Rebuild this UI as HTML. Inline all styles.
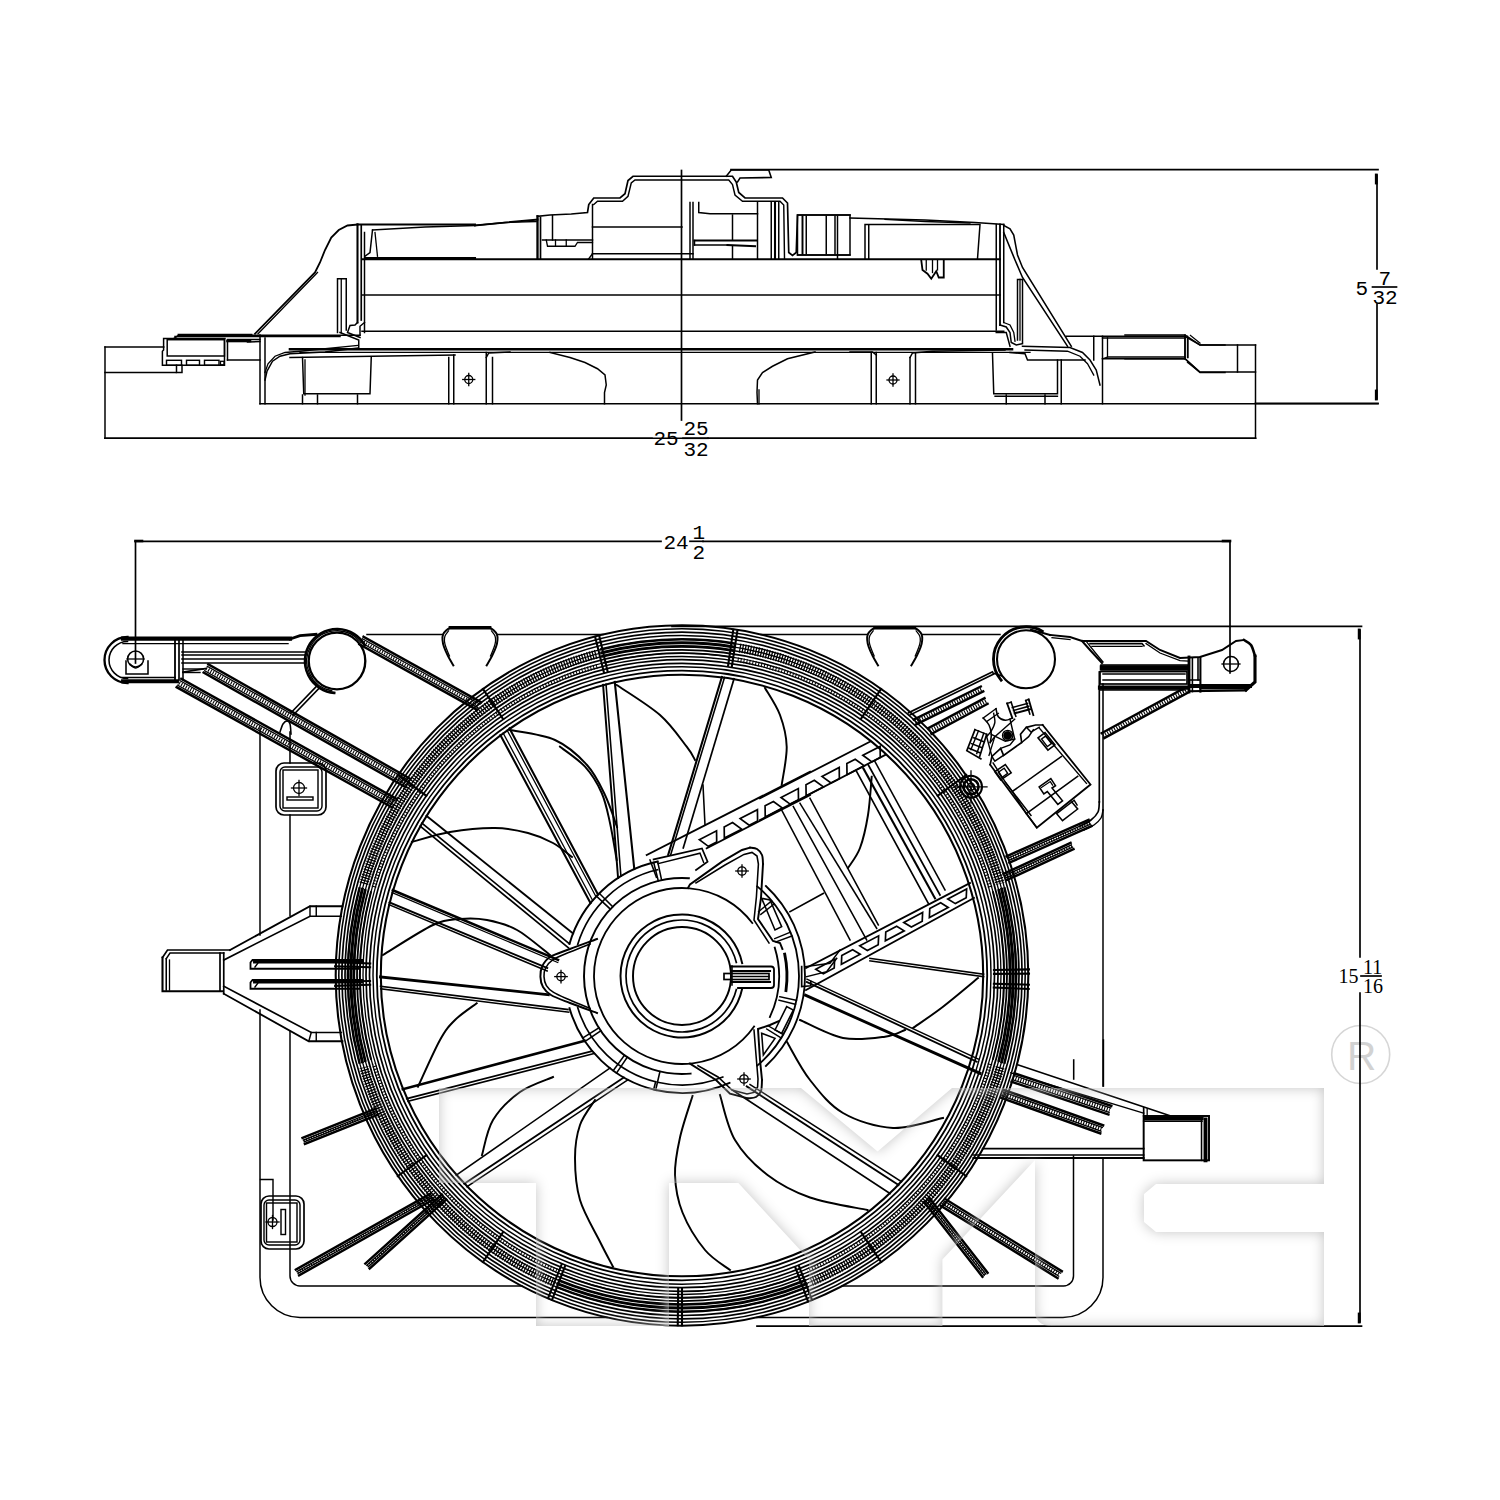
<!DOCTYPE html>
<html><head><meta charset="utf-8"><title>Radiator fan assembly drawing</title>
<style>
html,body{margin:0;padding:0;background:#fff}
svg{display:block}
.d *{fill:none;stroke:#000;stroke-linecap:square;stroke-linejoin:miter}
.d [stroke-dasharray]{stroke-linecap:butt}
text{font-family:"Liberation Mono","DejaVu Sans Mono",monospace;fill:#000;stroke:none}
</style></head><body>
<svg width="1500" height="1500" viewBox="0 0 1500 1500">
<rect width="1500" height="1500" fill="#fff"/>
<circle cx="1360.7" cy="1054.5" r="29" fill="none" stroke="#d6d6d6" stroke-width="1.6"/>
<text x="1361.5" y="1070" text-anchor="middle" style="font-family:'Liberation Sans','DejaVu Sans',sans-serif;font-size:40.5px;fill:#d2d2d2;stroke:none">R</text>

<g class="d">
<line x1="105" y1="347" x2="163.75" y2="347" stroke-width="1.49"/>
<line x1="105" y1="347" x2="105" y2="438.25" stroke-width="1.49"/>
<line x1="105" y1="438.25" x2="1255.5" y2="438.25" stroke-width="1.49"/>
<line x1="1255.5" y1="345" x2="1255.5" y2="438.25" stroke-width="1.49"/>
<line x1="105" y1="372.5" x2="176" y2="372.5" stroke-width="1.49"/>
<polyline points="225,338.4 163.6,338.4 163.6,350 162.4,351.2 162.4,365.3 224.5,365.3 224.5,338.4" stroke-width="1.49"/>
<rect x="167.2" y="339.7" width="57.3" height="16.3" stroke-width="1.49"/>
<rect x="166.5" y="360.3" width="15" height="5" stroke-width="1.43"/>
<rect x="186.5" y="360.3" width="13" height="5" stroke-width="1.43"/>
<rect x="204.5" y="360.3" width="14.5" height="5" stroke-width="1.43"/>
<rect x="220.5" y="361.3" width="3.5" height="3.5" stroke-width="1.3"/>
<polyline points="176.5,365.3 176.5,372.5 182,372.5 182,365.3" stroke-width="1.49"/>
<polyline points="174,338.4 179,335" stroke-width="1.49"/>
<line x1="179" y1="335.2" x2="251" y2="335.2" stroke-width="2.86"/>
<line x1="251" y1="335.2" x2="360" y2="335.2" stroke-width="1.56"/>
<line x1="175" y1="336.5" x2="340" y2="336.5" stroke-width="1.49"/>
<polyline points="227.5,360 227.5,339.5 260,339.5" stroke-width="1.49"/>
<line x1="227.5" y1="341" x2="250" y2="341" stroke-width="2.6"/>
<line x1="247.5" y1="342" x2="260" y2="341.5" stroke-width="1.49"/>
<line x1="227.5" y1="360" x2="260" y2="360" stroke-width="1.49"/>
<line x1="260" y1="335" x2="260" y2="403.75" stroke-width="1.49"/>
<line x1="265" y1="338" x2="265" y2="403.75" stroke-width="1.49"/>
<line x1="260" y1="403.75" x2="1378" y2="403.75" stroke-width="1.49"/>
<polyline points="265,380 267,371.25 272.5,361.25 280,356.25 290,353.75 325,352 357.5,348" stroke-width="1.49"/>
<polyline points="265,372.5 268,363.75 275,356.25 285,352.5 300,351.25 357.5,345.5" stroke-width="1.3"/>
<polyline points="357.5,224.5 347.5,225.5 338.75,230 331.25,237.5 325,250 320,262.5 315,272.5 255,333.75" stroke-width="1.82"/>
<polyline points="317.5,272.5 258,333.75" stroke-width="1.3"/>
<polyline points="337.5,332.5 337.5,278.75 346.25,278.75 346.25,330" stroke-width="1.49"/>
<line x1="341.25" y1="278.75" x2="341.25" y2="332.5" stroke-width="1.3"/>
<line x1="357.5" y1="224.5" x2="357.5" y2="322.5" stroke-width="2.08"/>
<line x1="361.25" y1="225.5" x2="361.25" y2="320" stroke-width="1.69"/>
<line x1="364.5" y1="232.5" x2="364.5" y2="332.5" stroke-width="1.49"/>
<polyline points="357.5,322.5 355,325 350,325.5 347.5,332.5 360,337.5" stroke-width="1.49"/>
<polyline points="364.5,322.5 360,326.25 360,335" stroke-width="1.49"/>
<polyline points="340,332.5 358.75,340 358.75,347.5" stroke-width="1.49"/>
<polyline points="357.5,224.5 475,224.5" stroke-width="1.95"/>
<polyline points="475,225.5 537.5,219.5" stroke-width="1.95"/>
<polyline points="372.5,230 425,227 475,225.5" stroke-width="1.3"/>
<polyline points="475,225.5 505,222.5 536.25,221.5" stroke-width="1.3"/>
<polyline points="372.5,230 370,252.5 365,256.25" stroke-width="1.49"/>
<polyline points="375,232.5 377.5,256.25" stroke-width="1.3"/>
<line x1="365" y1="258" x2="475" y2="258" stroke-width="2.08"/>
<line x1="362" y1="259.25" x2="1000" y2="259.25" stroke-width="1.82"/>
<line x1="362" y1="295" x2="1000" y2="295" stroke-width="1.49"/>
<line x1="362" y1="331.25" x2="1003.75" y2="331.25" stroke-width="1.49"/>
<line x1="290" y1="349.3" x2="1012" y2="349.3" stroke-width="2.6"/>
<line x1="300" y1="352.3" x2="1030" y2="352.3" stroke-width="1.3"/>
<polyline points="302.5,357.5 303.75,393.75 370,393.75 371.25,357.5" stroke-width="1.49"/>
<polyline points="305,360 305,395" stroke-width="1.3"/>
<polyline points="302.5,395 302.5,403.75" stroke-width="1.49"/>
<polyline points="317.5,395 317.5,403.75" stroke-width="1.49"/>
<polyline points="357.5,395 357.5,403.75" stroke-width="1.49"/>
<line x1="290" y1="357.5" x2="455" y2="355" stroke-width="1.49"/>
<line x1="448.75" y1="357.5" x2="448.75" y2="403.75" stroke-width="1.49"/>
<line x1="453.75" y1="355" x2="453.75" y2="403.75" stroke-width="1.49"/>
<circle cx="468.75" cy="379.5" r="4" stroke-width="1.3"/>
<line x1="462.75" y1="379.5" x2="474.75" y2="379.5" stroke-width="1.3"/>
<line x1="468.75" y1="373.5" x2="468.75" y2="385.5" stroke-width="1.3"/>
<line x1="486.25" y1="352.5" x2="486.25" y2="403.75" stroke-width="1.49"/>
<line x1="492.5" y1="357.5" x2="492.5" y2="403.75" stroke-width="1.49"/>
<polyline points="486.25,357.5 488.75,353 510,352" stroke-width="1.49"/>
<polyline points="550,352.5 570,357.5 585,362.5 597.5,368.75 605,375 606.25,385 604.5,392.5 604.5,403.75" stroke-width="1.49"/>
<polyline points="815,352 787.5,358.75 772.5,366.25 762.5,372.5 757.5,380 757,392.5 757.5,403.75" stroke-width="1.49"/>
<line x1="759" y1="390" x2="759" y2="403.75" stroke-width="1.3"/>
<line x1="871.25" y1="352.5" x2="871.25" y2="403.75" stroke-width="1.49"/>
<line x1="876.25" y1="352.5" x2="876.25" y2="403.75" stroke-width="1.49"/>
<polyline points="850,352 872.5,352 876.25,355" stroke-width="1.49"/>
<line x1="910" y1="357.5" x2="910" y2="403.75" stroke-width="1.49"/>
<line x1="915.5" y1="353.75" x2="915.5" y2="403.75" stroke-width="1.49"/>
<polyline points="910,357.5 912.5,353 932.5,351.25 1005,350" stroke-width="1.49"/>
<circle cx="893" cy="380" r="4" stroke-width="1.3"/>
<line x1="887" y1="380" x2="899" y2="380" stroke-width="1.3"/>
<line x1="893" y1="374" x2="893" y2="386" stroke-width="1.3"/>
<polyline points="992.5,353.75 993.75,393.75 1057.5,393.75 1057.5,360" stroke-width="1.49"/>
<line x1="1006.25" y1="395" x2="1006.25" y2="403.75" stroke-width="1.49"/>
<line x1="1045" y1="395" x2="1045" y2="403.75" stroke-width="1.49"/>
<line x1="995" y1="396.25" x2="1057.5" y2="396.25" stroke-width="1.3"/>
<line x1="1061.25" y1="360" x2="1061.25" y2="403.75" stroke-width="1.49"/>
<polyline points="1010,352.5 1025,353.75 1027.5,360 1085,360" stroke-width="1.49"/>
<polyline points="1022.5,346.25 1070,347.5 1082.5,352.5 1090,360 1096.25,370 1100,385" stroke-width="1.49"/>
<polyline points="1025,350 1067.5,351.25 1080,356.25 1087.5,363.75 1093.75,375" stroke-width="1.3"/>
<line x1="1102.5" y1="336.25" x2="1102.5" y2="403.75" stroke-width="1.49"/>
<line x1="1093.75" y1="336.25" x2="1093.75" y2="360" stroke-width="1.49"/>
<polyline points="1003.75,225.5 1010,228.75 1013.75,235 1017.5,255 1022.5,267.5 1071.25,346.25" stroke-width="1.56"/>
<polyline points="1003.75,232.5 1015,260 1022.5,277.5 1067.5,346.25" stroke-width="1.56"/>
<polyline points="1017.5,340 1017.5,279.5 1022.5,279.5 1022.5,342.5" stroke-width="1.49"/>
<line x1="1020" y1="279.5" x2="1020" y2="340" stroke-width="1.3"/>
<line x1="996.25" y1="224.5" x2="996.25" y2="330" stroke-width="1.49"/>
<line x1="1000" y1="224.5" x2="1000" y2="325" stroke-width="1.82"/>
<line x1="1003.75" y1="224.5" x2="1003.75" y2="322.5" stroke-width="1.49"/>
<polyline points="1000,325 1006.25,327 1010,332.5 1011.25,342.5 1016.25,345 1022.5,343.75" stroke-width="1.49"/>
<polyline points="1003.75,322.5 1010,325 1013.75,332.5 1015,341.25" stroke-width="1.3"/>
<polyline points="996.25,332.5 1006.25,332.5 1010,346.25" stroke-width="1.49"/>
<polyline points="1066.25,336.25 1185,336.25 1200,345 1225,345" stroke-width="1.49"/>
<line x1="1102.5" y1="338" x2="1185" y2="338" stroke-width="1.3"/>
<polyline points="1102.5,358.75 1185,358.75 1200,372.5 1225,372.5" stroke-width="1.49"/>
<line x1="1107.5" y1="357" x2="1185" y2="357" stroke-width="1.3"/>
<polyline points="1102.5,358.75 1107.5,357 1107.5,338" stroke-width="1.3"/>
<line x1="1185" y1="336.25" x2="1185" y2="358.75" stroke-width="1.49"/>
<line x1="1188" y1="338" x2="1188" y2="357.5" stroke-width="1.3"/>
<polyline points="1125,335 1185,335 1200,345 1255.5,345" stroke-width="1.49"/>
<polyline points="1125,358.75 1185,358.75 1200,372 1255.5,372" stroke-width="1.49"/>
<polyline points="1190.5,335.5 1200,343" stroke-width="1.3"/>
<polyline points="1187.5,362.5 1198.75,371.25" stroke-width="1.3"/>
<line x1="1185" y1="335" x2="1185" y2="358.75" stroke-width="1.49"/>
<line x1="1187.5" y1="336.25" x2="1187.5" y2="357.5" stroke-width="1.3"/>
<line x1="1237.5" y1="345" x2="1237.5" y2="372" stroke-width="1.49"/>
<polyline points="537.5,216.25 550,215 571.25,214 587.5,212.5 588.75,204.5 593.75,198 620,198 625,193.75 628,180.5 633,176.25 732.5,176.25 736.25,182 738.75,192.5 745,198 782.5,198 787.5,203 788.75,252.5 792.5,255.5 796.25,252.5 797.5,215 850,215" stroke-width="1.69"/>
<polyline points="593.75,204.5 597.5,201.25 622.5,201.25 628,196.25 631.25,183 635,180 728.75,180 732.5,184.5 735,195 742.5,201.25 780,201.25 783.75,205 784.5,258.75" stroke-width="1.43"/>
<polyline points="726.25,176.25 731.25,170 768.75,170 771.25,177.5 740,178 737.5,182" stroke-width="1.56"/>
<line x1="592.5" y1="204.5" x2="592.5" y2="258.75" stroke-width="1.49"/>
<line x1="690" y1="202.5" x2="690" y2="258.75" stroke-width="1.49"/>
<line x1="693" y1="202.5" x2="693" y2="258.75" stroke-width="1.49"/>
<line x1="592.5" y1="227" x2="682" y2="227" stroke-width="1.49"/>
<line x1="592.5" y1="253.75" x2="693" y2="253.75" stroke-width="1.49"/>
<polyline points="592.5,253.75 588.75,258.75" stroke-width="1.49"/>
<line x1="537.5" y1="216.25" x2="537.5" y2="258.75" stroke-width="2.34"/>
<line x1="540.5" y1="217.5" x2="540.5" y2="258.75" stroke-width="1.69"/>
<line x1="552.5" y1="215.5" x2="552.5" y2="240" stroke-width="1.49"/>
<line x1="542.5" y1="240" x2="592.5" y2="240" stroke-width="1.49"/>
<polyline points="546.25,240 547.5,246.25 575,246.25 577.5,242.5 592.5,242.5" stroke-width="1.3"/>
<line x1="555.5" y1="240" x2="555.5" y2="246.25" stroke-width="1.3"/>
<line x1="566.25" y1="240" x2="566.25" y2="246.25" stroke-width="1.3"/>
<polyline points="698.75,202.5 698.75,212.5 710,213.75 757.5,213.75" stroke-width="1.49"/>
<line x1="732.5" y1="215" x2="732.5" y2="240" stroke-width="1.49"/>
<line x1="757.5" y1="202.5" x2="757.5" y2="258.75" stroke-width="1.49"/>
<line x1="771.25" y1="202.5" x2="771.25" y2="258.75" stroke-width="1.49"/>
<line x1="775" y1="202.5" x2="775" y2="258.75" stroke-width="2.08"/>
<line x1="778.75" y1="202.5" x2="778.75" y2="258.75" stroke-width="1.49"/>
<line x1="694.5" y1="240.5" x2="756.25" y2="240.5" stroke-width="1.95"/>
<line x1="694.5" y1="245" x2="727.5" y2="245" stroke-width="1.49"/>
<line x1="727.5" y1="245" x2="755" y2="246.25" stroke-width="2.08"/>
<line x1="732.5" y1="246.25" x2="732.5" y2="258.75" stroke-width="1.49"/>
<line x1="694.5" y1="240.5" x2="694.5" y2="245" stroke-width="1.49"/>
<rect x="797.5" y="215" width="52.5" height="40" stroke-width="1.49"/>
<line x1="802.5" y1="216.25" x2="802.5" y2="253.75" stroke-width="1.95"/>
<line x1="806.25" y1="216.25" x2="806.25" y2="253.75" stroke-width="1.49"/>
<line x1="826.25" y1="216.25" x2="826.25" y2="253.75" stroke-width="1.49"/>
<line x1="835" y1="216.25" x2="835" y2="253.75" stroke-width="1.49"/>
<line x1="837.5" y1="216.25" x2="837.5" y2="258.75" stroke-width="1.49"/>
<polyline points="850,218 925,220 975,222.5 1003.75,224.5" stroke-width="1.49"/>
<polyline points="885,219.5 925,221.5 970,223" stroke-width="1.3"/>
<polyline points="865,258.75 865,224.5 980,224.5 977.5,258.75" stroke-width="1.49"/>
<line x1="868.75" y1="225.5" x2="868.75" y2="258.75" stroke-width="1.49"/>
<line x1="797.5" y1="255" x2="850" y2="255" stroke-width="1.49"/>
<polyline points="921.25,260 922.5,270 927.5,273.75 931.25,278.75 936.25,271.25 938.75,277.5 943.75,277.5 943.75,260" stroke-width="1.82"/>
<line x1="926.25" y1="260" x2="926.25" y2="270" stroke-width="1.3"/>
<line x1="932.5" y1="260" x2="932.5" y2="272.5" stroke-width="1.3"/>
<line x1="937.5" y1="260" x2="937.5" y2="270" stroke-width="1.3"/>
<line x1="260" y1="728" x2="260" y2="935" stroke-width="1.49"/>
<path d="M260 1010 V1277.5 A40 40 0 0 0 300 1317.5 H607" stroke-width="1.49" />
<path d="M757 1317.5 H1063 A40 40 0 0 0 1103 1277.5 V1158" stroke-width="1.49" />
<line x1="1103" y1="1086" x2="1103" y2="810" stroke-width="1.49"/>
<line x1="290" y1="815" x2="290" y2="915.5" stroke-width="1.49"/>
<path d="M290 1031.5 V1276 A10 10 0 0 0 300 1286 H522" stroke-width="1.49" />
<path d="M842 1286 H1063.5 A10 10 0 0 0 1073.5 1276 V1156" stroke-width="1.49" />
<ellipse cx="682" cy="975.5" rx="346.3" ry="350.2" stroke-width="2.08"/>
<ellipse cx="682" cy="975.5" rx="343.2" ry="346.8" stroke-width="1.56"/>
<ellipse cx="682" cy="975.5" rx="340.1" ry="343.4" stroke-width="1.69"/>
<ellipse cx="682" cy="975.5" rx="337" ry="340" stroke-width="1.69"/>
<ellipse cx="682" cy="975.5" rx="334" ry="336.2" stroke-width="1.3"/>
<ellipse cx="682" cy="975.5" rx="331" ry="332.6" stroke-width="1.3"/>
<ellipse cx="682" cy="975.5" rx="328" ry="329" stroke-width="1.3"/>
<ellipse cx="682" cy="975.5" rx="325" ry="325.6" stroke-width="1.82"/>
<ellipse cx="682" cy="975.5" rx="322" ry="322.3" stroke-width="1.3"/>
<ellipse cx="682" cy="975.5" rx="319" ry="319" stroke-width="1.3"/>
<ellipse cx="682" cy="975.5" rx="316" ry="315.8" stroke-width="1.69"/>
<ellipse cx="682" cy="975.5" rx="312.5" ry="312.2" stroke-width="1.69"/>
<ellipse cx="682" cy="975.5" rx="309" ry="308.7" stroke-width="1.43"/>
<ellipse cx="682" cy="975.5" rx="305.2" ry="304.8" stroke-width="1.82"/>
<ellipse cx="682" cy="975.5" rx="301.2" ry="300.8" stroke-width="2.08"/>
<path d="M363.82 883.82 A331 332.6 0 0 1 596.33 654.23" stroke-width="9.1" stroke-dasharray="1.3 1.4"/>
<path d="M373.92 887.13 A320.5 320.6 0 0 1 599.05 665.82" stroke-width="4.68" stroke-dasharray="1 2"/>
<path d="M739.48 647.95 A331 332.6 0 0 1 1000.18 883.82" stroke-width="9.1" stroke-dasharray="1.3 1.4"/>
<path d="M737.65 659.77 A320.5 320.6 0 0 1 990.08 887.13" stroke-width="4.68" stroke-dasharray="1 2"/>
<path d="M1000.18 1067.18 A331 332.6 0 0 1 811.33 1281.66" stroke-width="9.1" stroke-dasharray="1.3 1.4"/>
<path d="M990.08 1063.87 A320.5 320.6 0 0 1 807.23 1270.61" stroke-width="4.68" stroke-dasharray="1 2"/>
<path d="M552.67 1281.66 A331 332.6 0 0 1 363.82 1067.18" stroke-width="9.1" stroke-dasharray="1.3 1.4"/>
<path d="M556.77 1270.61 A320.5 320.6 0 0 1 373.92 1063.87" stroke-width="4.68" stroke-dasharray="1 2"/>
<path d="M601.2 649.29 A334 336.2 0 0 1 734.25 643.44" stroke-width="2.47" />
<path d="M601.92 652.78 A331 332.6 0 0 1 733.78 646.99" stroke-width="2.99" />
<path d="M602.65 656.27 A328 329 0 0 1 733.31 650.55" stroke-width="2.73" />
<path d="M604.1 662.77 A322 322.3 0 0 1 732.37 657.17" stroke-width="1.95" />
<path d="M807.12 1287.22 A334 336.2 0 0 1 556.88 1287.22" stroke-width="2.47" />
<path d="M805.99 1283.88 A331 332.6 0 0 1 558.01 1283.88" stroke-width="2.99" />
<path d="M804.87 1280.54 A328 329 0 0 1 559.13 1280.54" stroke-width="2.73" />
<path d="M802.62 1274.33 A322 322.3 0 0 1 561.38 1274.33" stroke-width="1.95" />
<path d="M359.38 1062.51 A334 336.2 0 0 1 359.38 888.49" stroke-width="2.47" />
<path d="M362.28 1061.58 A331 332.6 0 0 1 362.28 889.42" stroke-width="2.99" />
<path d="M365.18 1060.65 A328 329 0 0 1 365.18 890.35" stroke-width="2.73" />
<path d="M370.97 1058.92 A322 322.3 0 0 1 370.97 892.08" stroke-width="1.95" />
<path d="M1004.62 888.49 A334 336.2 0 0 1 1004.62 1062.51" stroke-width="2.47" />
<path d="M1001.72 889.42 A331 332.6 0 0 1 1001.72 1061.58" stroke-width="2.99" />
<path d="M998.82 890.35 A328 329 0 0 1 998.82 1060.65" stroke-width="2.73" />
<path d="M993.03 892.08 A322 322.3 0 0 1 993.03 1058.92" stroke-width="1.95" />
<line x1="603.88" y1="672.23" x2="595.12" y2="636.87" stroke-width="2.08"/>
<line x1="607.58" y1="671.29" x2="599.23" y2="635.82" stroke-width="2.08"/>
<line x1="728.12" y1="665.69" x2="733.29" y2="629.57" stroke-width="2.08"/>
<line x1="731.88" y1="666.28" x2="737.48" y2="630.22" stroke-width="2.08"/>
<line x1="798.88" y1="1265.94" x2="811.99" y2="1299.81" stroke-width="2.08"/>
<line x1="795.33" y1="1267.35" x2="808.05" y2="1301.38" stroke-width="2.08"/>
<line x1="682" y1="1288.75" x2="682" y2="1325.28" stroke-width="2.08"/>
<line x1="678.19" y1="1288.72" x2="677.76" y2="1325.25" stroke-width="2.08"/>
<line x1="565.12" y1="1265.94" x2="552.01" y2="1299.81" stroke-width="2.08"/>
<line x1="561.6" y1="1264.48" x2="548.09" y2="1298.18" stroke-width="2.08"/>
<line x1="370.14" y1="984.79" x2="335.15" y2="985.88" stroke-width="2.08"/>
<line x1="370.05" y1="980.97" x2="335.05" y2="981.6" stroke-width="2.08"/>
<line x1="370.11" y1="967.3" x2="335.12" y2="966.34" stroke-width="2.08"/>
<line x1="370.23" y1="963.48" x2="335.26" y2="962.07" stroke-width="2.08"/>
<line x1="993.95" y1="970.03" x2="1028.95" y2="969.4" stroke-width="2.08"/>
<line x1="994" y1="973.86" x2="1029" y2="973.67" stroke-width="2.08"/>
<line x1="993.89" y1="983.7" x2="1028.88" y2="984.66" stroke-width="2.08"/>
<line x1="993.77" y1="987.52" x2="1028.74" y2="988.93" stroke-width="2.08"/>
<line x1="426.42" y1="795.83" x2="397.75" y2="774.88" stroke-width="2.08"/>
<line x1="503.04" y1="718.9" x2="482.97" y2="688.98" stroke-width="2.08"/>
<line x1="860.96" y1="718.9" x2="881.03" y2="688.98" stroke-width="2.08"/>
<line x1="937.58" y1="795.83" x2="966.25" y2="774.88" stroke-width="2.08"/>
<line x1="937.58" y1="1155.17" x2="966.25" y2="1176.12" stroke-width="2.08"/>
<line x1="860.96" y1="1232.1" x2="881.03" y2="1262.02" stroke-width="2.08"/>
<line x1="503.04" y1="1232.1" x2="482.97" y2="1262.02" stroke-width="2.08"/>
<line x1="426.42" y1="1155.17" x2="397.75" y2="1176.12" stroke-width="2.08"/>
<line x1="500.43" y1="735.12" x2="590.5" y2="903.09" stroke-width="2.08"/>
<line x1="503.14" y1="733.11" x2="592.65" y2="900.46" stroke-width="1.3"/>
<line x1="509.54" y1="728.52" x2="598.01" y2="894.55" stroke-width="2.08"/>
<line x1="507.15" y1="730.21" x2="595.97" y2="896.7" stroke-width="1.3"/>
<line x1="603.08" y1="684.9" x2="618.06" y2="878.01" stroke-width="1.95"/>
<line x1="606.02" y1="684.12" x2="620.92" y2="876.21" stroke-width="1.56"/>
<line x1="614.76" y1="681.98" x2="634.29" y2="869.17" stroke-width="2.08"/>
<line x1="721.87" y1="677.04" x2="668.21" y2="854.78" stroke-width="2.08"/>
<line x1="724.5" y1="677.41" x2="670.77" y2="854.52" stroke-width="1.56"/>
<line x1="733.99" y1="678.91" x2="683.26" y2="848.01" stroke-width="1.69"/>
<line x1="426.4" y1="815.8" x2="573.02" y2="933.43" stroke-width="1.82"/>
<line x1="421.9" y1="823.22" x2="569.49" y2="943.9" stroke-width="1.69"/>
<line x1="420.18" y1="826.18" x2="568.46" y2="947.77" stroke-width="1.69"/>
<line x1="392.84" y1="890.23" x2="558.05" y2="959.8" stroke-width="2.47"/>
<line x1="392.15" y1="892.59" x2="557.73" y2="962.52" stroke-width="1.3"/>
<line x1="389.51" y1="902.44" x2="547.24" y2="968.01" stroke-width="1.95"/>
<line x1="388.96" y1="904.68" x2="547.09" y2="971.01" stroke-width="1.56"/>
<line x1="380.5" y1="976.94" x2="548.3" y2="994.69" stroke-width="2.86"/>
<line x1="380.69" y1="986.33" x2="567.82" y2="1009.52" stroke-width="1.82"/>
<line x1="380.8" y1="988.84" x2="568.65" y2="1012.22" stroke-width="1.56"/>
<line x1="402.84" y1="1089.24" x2="584.57" y2="1040.78" stroke-width="2.6"/>
<line x1="406.86" y1="1098.62" x2="592.24" y2="1051.05" stroke-width="1.82"/>
<line x1="408.03" y1="1101.2" x2="594.27" y2="1053.41" stroke-width="1.69"/>
<line x1="456.28" y1="1175.11" x2="609.94" y2="1068.17" stroke-width="1.56"/>
<line x1="464.27" y1="1183.78" x2="623.78" y2="1077.48" stroke-width="1.82"/>
<line x1="467.04" y1="1186.63" x2="627.9" y2="1079.74" stroke-width="1.56"/>
<line x1="898.52" y1="1185.04" x2="746.77" y2="1086.4" stroke-width="1.95"/>
<line x1="901.63" y1="1181.78" x2="749.97" y2="1084.46" stroke-width="1.43"/>
<line x1="890.02" y1="1193.46" x2="732.62" y2="1090.29" stroke-width="1.69"/>
<line x1="976.67" y1="1061.67" x2="806.85" y2="982.07" stroke-width="1.82"/>
<line x1="978.33" y1="1059.17" x2="806.96" y2="979.25" stroke-width="1.43"/>
<line x1="980" y1="1073.33" x2="805.51" y2="995.23" stroke-width="2.86"/>
<line x1="983.5" y1="974.14" x2="870" y2="958.33" stroke-width="1.69"/>
<line x1="983.5" y1="976.64" x2="870" y2="960.83" stroke-width="1.69"/>
<line x1="646.67" y1="855" x2="810" y2="771.67" stroke-width="1.82"/>
<line x1="760" y1="798.33" x2="870" y2="741.67" stroke-width="1.82"/>
<line x1="706.67" y1="848.33" x2="810" y2="795" stroke-width="1.82"/>
<line x1="760" y1="820" x2="885" y2="755" stroke-width="1.82"/>
<line x1="806" y1="968" x2="970" y2="883" stroke-width="1.82"/>
<line x1="806" y1="990" x2="974" y2="898" stroke-width="1.82"/>
<polygon points="699.31,839.73 716.55,830.83 716.7,842.01 708.34,846.32" stroke-width="1.69"/>
<polygon points="724.19,826.88 732.55,822.57 741.58,829.16 724.34,838.06" stroke-width="1.69"/>
<polygon points="740.19,818.62 757.44,809.72 757.58,820.9 749.22,825.21" stroke-width="1.69"/>
<polygon points="765.08,805.77 773.44,801.45 782.47,808.05 765.23,816.95" stroke-width="1.69"/>
<polygon points="781.08,797.51 798.33,788.61 798.47,799.78 790.11,804.1" stroke-width="1.69"/>
<polygon points="805.97,784.66 814.33,780.34 823.36,786.94 806.12,795.84" stroke-width="1.69"/>
<polygon points="821.97,776.4 839.22,767.49 839.36,778.67 831,782.99" stroke-width="1.69"/>
<polygon points="846.86,763.55 855.22,759.23 864.25,765.82 847,774.73" stroke-width="1.69"/>
<polygon points="862.86,755.29 880.11,746.38 880.25,757.56 871.89,761.88" stroke-width="1.69"/>
<polygon points="815.8,969.3 834.63,959.28 834.23,968.1 823.35,973.89" stroke-width="1.69"/>
<polygon points="841.77,955.47 852.65,949.68 860.2,954.27 841.37,964.29" stroke-width="1.69"/>
<polygon points="859.8,945.87 878.63,935.85 878.23,944.67 867.35,950.46" stroke-width="1.69"/>
<polygon points="885.77,932.04 896.65,926.25 904.2,930.84 885.37,940.87" stroke-width="1.69"/>
<polygon points="903.8,922.44 922.63,912.42 922.23,921.24 911.35,927.04" stroke-width="1.69"/>
<polygon points="929.77,908.61 940.65,902.82 948.2,907.41 929.37,917.44" stroke-width="1.69"/>
<polygon points="947.8,899.01 966.63,888.99 966.23,897.82 955.35,903.61" stroke-width="1.69"/>
<line x1="781.67" y1="810" x2="850" y2="940" stroke-width="1.56"/>
<line x1="793.33" y1="806.67" x2="866.67" y2="940" stroke-width="1.56"/>
<line x1="800" y1="803.33" x2="876.67" y2="928.33" stroke-width="1.56"/>
<line x1="810" y1="798.33" x2="878.33" y2="925" stroke-width="1.56"/>
<line x1="856.67" y1="771.67" x2="928.33" y2="903.33" stroke-width="1.69"/>
<line x1="863.33" y1="768.33" x2="935" y2="898.33" stroke-width="2.08"/>
<line x1="868.33" y1="765" x2="940" y2="895" stroke-width="1.69"/>
<line x1="875" y1="761.67" x2="945" y2="890" stroke-width="1.56"/>
<line x1="790" y1="911.67" x2="823.33" y2="893.33" stroke-width="1.69"/>
<circle cx="682" cy="976" r="49" stroke-width="1.95"/>
<path d="M736.34 989.55 A56 56 0 1 1 736.34 962.45" stroke-width="1.69" />
<path d="M742.16 988.79 A61.5 61.5 0 1 1 742.16 963.21" stroke-width="1.95" />
<path d="M690.54 1073.63 A98 98 0 1 1 688.84 878.24" stroke-width="1.95" />
<path d="M754.09 1026.47 A88 88 0 1 1 752.28 923.04" stroke-width="1.82" />
<path d="M655.68 1090 A117 117 0 0 1 569.53 1008.25" stroke-width="1.95" />
<path d="M655.63 1081.76 A109 109 0 0 1 577.76 1007.87" stroke-width="1.69" />
<path d="M569.53 943.75 A117 117 0 0 1 657.67 861.56" stroke-width="1.95" />
<path d="M577.76 944.13 A109 109 0 0 1 657.48 869.79" stroke-width="1.69" />
<path d="M729.59 1082.88 A117 117 0 0 1 655.68 1090" stroke-width="1.82" />
<path d="M722.83 1077.06 A109 109 0 0 1 657.48 1082.21" stroke-width="1.56" />
<line x1="659.95" y1="1071.49" x2="655.68" y2="1090" stroke-width="1.56"/>
<line x1="627.2" y1="1057.25" x2="616.57" y2="1073" stroke-width="1.56"/>
<line x1="624.4" y1="1055.28" x2="613.23" y2="1070.65" stroke-width="1.56"/>
<line x1="600.75" y1="1030.8" x2="585" y2="1041.43" stroke-width="1.56"/>
<line x1="598.89" y1="1027.93" x2="582.78" y2="1038" stroke-width="1.56"/>
<line x1="610.33" y1="909.16" x2="596.43" y2="896.21" stroke-width="1.56"/>
<line x1="612.7" y1="906.7" x2="599.27" y2="893.27" stroke-width="1.56"/>
<line x1="658.29" y1="880.91" x2="653.7" y2="862.48" stroke-width="1.56"/>
<line x1="661.62" y1="880.14" x2="657.67" y2="861.56" stroke-width="1.56"/>
<line x1="655.63" y1="1081.76" x2="653.7" y2="1089.52" stroke-width="1.56"/>
<path d="M774.76 947.64 A97 97 0 0 1 769.91 1016.99" stroke-width="1.82" />
<path d="M784.71 954.17 A105 105 0 0 1 785.98 990.61" stroke-width="2.86" />
<path d="M757.21 886.37 A117 117 0 0 1 757.21 1065.63" stroke-width="1.82" />
<path d="M765.89 886.04 A123 123 0 0 1 765.89 1065.96" stroke-width="1.82" />
<line x1="758.6" y1="911.72" x2="771.63" y2="900.79" stroke-width="1.43"/>
<line x1="760.8" y1="914.43" x2="774.2" y2="903.97" stroke-width="1.43"/>
<line x1="774.72" y1="938.54" x2="790.48" y2="932.17" stroke-width="1.43"/>
<line x1="775.97" y1="941.8" x2="791.94" y2="935.98" stroke-width="1.43"/>
<line x1="779.81" y1="996.79" x2="796.44" y2="1000.33" stroke-width="1.43"/>
<line x1="779.03" y1="1000.19" x2="795.52" y2="1004.3" stroke-width="1.43"/>
<line x1="768.6" y1="1026" x2="783.32" y2="1034.5" stroke-width="1.43"/>
<line x1="766.8" y1="1028.99" x2="781.22" y2="1038" stroke-width="1.43"/>
<path d="M597 939 C592.5 940.67 577.83 946 570 949 C562.17 952 554.6 954.17 550 957 C545.4 959.83 544 962.73 542.4 966 C540.8 969.27 540.3 973.1 540.4 976.6 C540.5 980.1 541.23 983.93 543 987 C544.77 990.07 546.5 992.33 551 995 C555.5 997.67 562.33 1000 570 1003 C577.67 1006 592.5 1011.33 597 1013" stroke-width="1.95" />
<path d="M590 944 C586.67 945.33 576.17 949.4 570 952 C563.83 954.6 557.07 956.93 553 959.6 C548.93 962.27 547.1 965.17 545.6 968 C544.1 970.83 543.87 973.67 544 976.6 C544.13 979.53 544.8 982.97 546.4 985.6 C548 988.23 549.67 990 553.6 992.4 C557.53 994.8 563.93 997.33 570 1000 C576.07 1002.67 586.67 1007 590 1008.4" stroke-width="1.56" />
<circle cx="561" cy="976.6" r="4.2" stroke-width="1.3"/>
<line x1="554.8" y1="976.6" x2="567.2" y2="976.6" stroke-width="1.3"/>
<line x1="561" y1="970.4" x2="561" y2="982.8" stroke-width="1.3"/>
<polyline points="688,888 690,884.4 722,861.6 742,850 750,847.6" stroke-width="1.95"/>
<path d="M750 847.6 C751.17 847.83 755 847.77 757 849 C759 850.23 761 852.5 762 855 C763 857.5 762.83 862.5 763 864" stroke-width="1.95" />
<polyline points="763,864 761,898 758,919 773,941 780,943 782.4,949" stroke-width="1.95"/>
<polyline points="696,883 725,865 744,854.4 752,852.4 757,856 758.4,864 756.4,897 754,920 769,943" stroke-width="1.56"/>
<circle cx="742" cy="871" r="4.2" stroke-width="1.3"/>
<line x1="735.8" y1="871" x2="748.2" y2="871" stroke-width="1.3"/>
<line x1="742" y1="864.8" x2="742" y2="877.2" stroke-width="1.3"/>
<polyline points="690,1063.6 700,1070 716,1080 730,1093.6 748,1098.4" stroke-width="1.95"/>
<path d="M748 1098.4 C749.33 1098.17 753.83 1098.23 756 1097 C758.17 1095.77 760 1093.83 761 1091 C762 1088.17 761.83 1081.83 762 1080" stroke-width="1.95" />
<polyline points="762,1080 760,1060 758,1029 770,1025 779,1021" stroke-width="1.95"/>
<polyline points="698,1065.6 718,1077 732,1090 747,1094 754,1092.4 757.6,1087 758,1079 755.6,1050 754,1030" stroke-width="1.56"/>
<circle cx="744" cy="1079" r="4.2" stroke-width="1.3"/>
<line x1="737.8" y1="1079" x2="750.2" y2="1079" stroke-width="1.3"/>
<line x1="744" y1="1072.8" x2="744" y2="1085.2" stroke-width="1.3"/>
<path d="M731.5 966.5 H771 A3 3 0 0 1 774 969.5 V985 A3 3 0 0 1 771 988 H738" stroke-width="1.82" />
<rect x="724" y="973.5" width="45" height="6" stroke-width="1.69"/>
<line x1="732" y1="976.5" x2="769" y2="976.5" stroke-width="1.3"/>
<line x1="732" y1="971" x2="770" y2="971" stroke-width="2.08"/>
<line x1="732" y1="982" x2="770" y2="982" stroke-width="2.08"/>
<line x1="732" y1="966" x2="732" y2="985" stroke-width="1.56"/>
<polygon points="761.67,898.33 775,930 781.67,926.67 770,900" stroke-width="1.56"/>
<polygon points="761.67,1033.33 775,1038.33 763.33,1055" stroke-width="1.56"/>
<polygon points="775,1030 786.67,1006.67 793.33,1010 781.67,1033.33" stroke-width="1.56"/>
<polyline points="801.67,966.67 801.67,986.67 810.83,985.83 810.83,981.67" stroke-width="1.69"/>
<polyline points="805,966.67 830,963.33 840,950" stroke-width="1.56"/>
<polyline points="806.67,976.67 826.67,971.67 836.67,958.33" stroke-width="1.56"/>
<path d="M510 730 C517.5 731.67 542.17 734.17 555 740 C567.83 745.83 578.67 755.83 587 765 C595.33 774.17 600 784.67 605 795 C610 805.33 615 821.67 617 827" stroke-width="1.95" />
<path d="M412 842 C418.33 840.33 436.17 834.33 450 832 C463.83 829.67 482 827.83 495 828 C508 828.17 518.33 830.5 528 833 C537.67 835.5 545.67 839 553 843 C560.33 847 568.83 854.67 572 857" stroke-width="1.95" />
<path d="M383 955 C391.33 950 420.17 931 433 925 C445.83 919 451 919.83 460 919 C469 918.17 477.5 918.17 487 920 C496.5 921.83 506.5 924.17 517 930 C527.5 935.83 544.5 950.83 550 955" stroke-width="1.95" />
<path d="M476.7 1003.3 C473.08 1006.08 461.12 1013.88 455 1020 C448.88 1026.12 446.17 1028.88 440 1040 C433.83 1051.12 421.67 1078.92 418 1086.7" stroke-width="1.95" />
<path d="M553 1077 C547.5 1079.5 530 1084.83 520 1092 C510 1099.17 499.33 1109.5 493 1120 C486.67 1130.5 483.83 1149.17 482 1155" stroke-width="1.95" />
<path d="M595 1100 C592.5 1104.17 583.33 1115.33 580 1125 C576.67 1134.67 575 1145.5 575 1158 C575 1170.5 575.83 1186.05 580 1200 C584.17 1213.95 594.5 1230.58 600 1241.7 C605.5 1252.82 610.83 1262.53 613 1266.7" stroke-width="1.95" />
<path d="M692.5 1096 C690.42 1102.92 682.92 1124.33 680 1137.5 C677.08 1150.67 674.58 1162.5 675 1175 C675.42 1187.5 677.5 1200 682.5 1212.5 C687.5 1225 697.08 1240.42 705 1250 C712.92 1259.58 725.83 1266.67 730 1270" stroke-width="1.95" />
<path d="M720 1095 C722.5 1102.5 727.08 1126.67 735 1140 C742.92 1153.33 755 1165.42 767.5 1175 C780 1184.58 793.33 1191.67 810 1197.5 C826.67 1203.33 857.92 1207.92 867.5 1210" stroke-width="1.95" />
<path d="M787 1042 C790.83 1048.33 800.67 1068.17 810 1080 C819.33 1091.83 829.17 1105 843 1113 C856.83 1121 876.33 1127.17 893 1128 C909.67 1128.83 934.67 1119.67 943 1118" stroke-width="1.95" />
<path d="M800 1020 C807.17 1023 828.83 1035.22 843 1038 C857.17 1040.78 874.67 1038.03 885 1036.7 C895.33 1035.37 901.67 1031.12 905 1030" stroke-width="1.95" />
<path d="M913 1028 C918 1024.45 932.17 1015.03 943 1006.7 C953.83 998.37 972.17 982.78 978 978" stroke-width="1.95" />
<path d="M871.7 776.7 C871.08 783.08 869.95 803.12 868 815 C866.05 826.88 863.33 839.17 860 848 C856.67 856.83 850 864.67 848 868" stroke-width="1.95" />
<path d="M616.7 685 C623.92 690 648.33 704.72 660 715 C671.67 725.28 680.87 739.2 686.7 746.7 C692.53 754.2 693.62 757.78 695 760" stroke-width="1.95" />
<path d="M765 688 C767.5 692.5 776.38 705.22 780 715 C783.62 724.78 786.42 735.03 786.7 746.7 C786.98 758.37 782.53 778.62 781.7 785" stroke-width="1.95" />
<path d="M560 746.7 C564.17 750.03 578.05 758.98 585 766.7 C591.95 774.42 597.53 783.62 601.7 793 C605.87 802.38 607.5 811.83 610 823 C612.5 834.17 615.58 853.83 616.7 860" stroke-width="1.95" />
<path d="M703 785 C703.33 791.67 704.67 818.33 705 825" stroke-width="1.56" />
<path d="M127.5 637 A23 23 0 0 0 127.5 683" stroke-width="2.34" />
<path d="M127.5 641.5 A18.5 18.5 0 0 0 127.5 678.5" stroke-width="1.56" />
<line x1="123" y1="638.6" x2="290" y2="638.6" stroke-width="4.16"/>
<polyline points="290,639 300,635.6 316,634.4" stroke-width="2.86"/>
<line x1="123" y1="643.6" x2="288" y2="643.6" stroke-width="1.43"/>
<line x1="182" y1="652" x2="306" y2="652" stroke-width="1.56"/>
<line x1="182" y1="655" x2="306" y2="655" stroke-width="1.43"/>
<line x1="182" y1="659" x2="306" y2="659" stroke-width="1.56"/>
<line x1="182" y1="663" x2="306" y2="663" stroke-width="1.56"/>
<line x1="175" y1="640" x2="175" y2="680" stroke-width="1.82"/>
<line x1="179" y1="640" x2="179" y2="680" stroke-width="1.69"/>
<line x1="183" y1="640" x2="183" y2="680" stroke-width="1.56"/>
<line x1="123" y1="681.3" x2="177" y2="681.3" stroke-width="3.9"/>
<line x1="123" y1="677.5" x2="175" y2="677.5" stroke-width="1.43"/>
<line x1="183" y1="669" x2="203" y2="669" stroke-width="1.43"/>
<line x1="183" y1="672.5" x2="200" y2="672.5" stroke-width="1.43"/>
<circle cx="135.6" cy="659" r="8" stroke-width="1.56"/>
<line x1="127" y1="659" x2="144" y2="659" stroke-width="1.3"/>
<polyline points="126,661 126,674 148,674 148,661" stroke-width="1.56"/>
<path d="M130 664 C130.93 664.67 133.6 668 135.6 668 C137.6 668 140.93 664.67 142 664" stroke-width="1.3" />
<circle cx="337" cy="661" r="28.3" stroke-width="2.34"/>
<path d="M334.21 692.88 A32 32 0 1 1 364.71 645" stroke-width="2.6" />
<path d="M331.76 690.74 A30.2 30.2 0 1 1 360.13 641.59" stroke-width="1.3" />
<circle cx="1026" cy="659.3" r="29" stroke-width="2.08"/>
<path d="M1001.1 680.19 A32.5 32.5 0 0 1 1042.25 631.15" stroke-width="2.86" />
<line x1="208.34" y1="664.37" x2="410.34" y2="778.87" stroke-width="2.47"/>
<line x1="203.66" y1="672.63" x2="405.66" y2="787.13" stroke-width="2.47"/>
<line x1="207.26" y1="666.28" x2="409.26" y2="780.78" stroke-width="1.3"/>
<line x1="204.74" y1="670.72" x2="406.74" y2="785.22" stroke-width="1.3"/>
<line x1="206" y1="668.5" x2="408" y2="783" stroke-width="3.6" stroke-dasharray="1.1 1.5"/>
<line x1="181.31" y1="678.85" x2="396.31" y2="798.85" stroke-width="2.47"/>
<line x1="176.69" y1="687.15" x2="391.69" y2="807.15" stroke-width="2.47"/>
<line x1="180.24" y1="680.77" x2="395.24" y2="800.77" stroke-width="1.3"/>
<line x1="177.76" y1="685.23" x2="392.76" y2="805.23" stroke-width="1.3"/>
<line x1="179" y1="683" x2="394" y2="803" stroke-width="3.6" stroke-dasharray="1.1 1.5"/>
<line x1="183" y1="672" x2="206" y2="668.5" stroke-width="1.56"/>
<line x1="319.15" y1="688.11" x2="293.15" y2="715.11" stroke-width="1.69"/>
<line x1="316.85" y1="685.89" x2="290.85" y2="712.89" stroke-width="1.69"/>
<path d="M280 732 C280.5 730.67 281.83 725.83 283 724 C284.17 722.17 285.83 721 287 721 C288.17 721 289.33 721.83 290 724 C290.67 726.17 290.83 732.33 291 734" stroke-width="1.56" />
<line x1="363.57" y1="636.79" x2="481.07" y2="702.29" stroke-width="2.47"/>
<line x1="359.43" y1="644.21" x2="476.93" y2="709.71" stroke-width="2.47"/>
<line x1="362.5" y1="638.71" x2="480" y2="704.21" stroke-width="1.3"/>
<line x1="360.5" y1="642.29" x2="478" y2="707.79" stroke-width="1.3"/>
<line x1="361.5" y1="640.5" x2="479" y2="706" stroke-width="2.6" stroke-dasharray="1.1 1.5"/>
<rect x="276" y="763" width="50" height="52" rx="8" stroke-width="1.69"/>
<rect x="280" y="767" width="42" height="44" rx="5" stroke-width="1.43"/>
<rect x="283" y="770" width="35" height="38" stroke-width="1.43"/>
<circle cx="299" cy="788" r="5.5" stroke-width="1.3"/>
<line x1="291.5" y1="788" x2="306.5" y2="788" stroke-width="1.3"/>
<line x1="299" y1="780.5" x2="299" y2="795.5" stroke-width="1.3"/>
<rect x="287" y="797" width="26" height="3" stroke-width="1.43"/>
<line x1="290" y1="732" x2="290" y2="763" stroke-width="1.56"/>
<line x1="450.3" y1="627.8" x2="489.7" y2="627.8" stroke-width="3.38"/>
<path d="M450.3 627.7 C449.7 628.08 447.9 628.9 446.7 630 C445.5 631.1 443.8 632.63 443.1 634.3 C442.4 635.97 442.35 637.88 442.5 640 C442.65 642.12 443.08 644.33 444 647 C444.92 649.67 446.45 652.95 448 656 C449.55 659.05 452.42 663.75 453.3 665.3" stroke-width="1.95" />
<path d="M448.5 631 C447.92 631.83 445.68 634.33 445 636 C444.32 637.67 444.23 639.08 444.4 641 C444.57 642.92 445.15 645 446 647.5 C446.85 650 448.92 654.58 449.5 656" stroke-width="1.3" />
<path d="M489.7 627.7 C490.3 628.08 492.1 628.9 493.3 630 C494.5 631.1 496.2 632.63 496.9 634.3 C497.6 635.97 497.65 637.88 497.5 640 C497.35 642.12 496.92 644.33 496 647 C495.08 649.67 493.55 652.95 492 656 C490.45 659.05 487.58 663.75 486.7 665.3" stroke-width="1.95" />
<path d="M491.5 631 C492.08 631.83 494.32 634.33 495 636 C495.68 637.67 495.77 639.08 495.6 641 C495.43 642.92 494.85 645 494 647.5 C493.15 650 491.08 654.58 490.5 656" stroke-width="1.3" />
<line x1="875" y1="627.8" x2="914.4" y2="627.8" stroke-width="3.38"/>
<path d="M875 627.7 C874.4 628.08 872.6 628.9 871.4 630 C870.2 631.1 868.5 632.63 867.8 634.3 C867.1 635.97 867.05 637.88 867.2 640 C867.35 642.12 867.78 644.33 868.7 647 C869.62 649.67 871.15 652.95 872.7 656 C874.25 659.05 877.12 663.75 878 665.3" stroke-width="1.95" />
<path d="M873.2 631 C872.62 631.83 870.38 634.33 869.7 636 C869.02 637.67 868.93 639.08 869.1 641 C869.27 642.92 869.85 645 870.7 647.5 C871.55 650 873.62 654.58 874.2 656" stroke-width="1.3" />
<path d="M914.4 627.7 C915 628.08 916.8 628.9 918 630 C919.2 631.1 920.9 632.63 921.6 634.3 C922.3 635.97 922.35 637.88 922.2 640 C922.05 642.12 921.62 644.33 920.7 647 C919.78 649.67 918.25 652.95 916.7 656 C915.15 659.05 912.28 663.75 911.4 665.3" stroke-width="1.95" />
<path d="M916.2 631 C916.78 631.83 919.02 634.33 919.7 636 C920.38 637.67 920.47 639.08 920.3 641 C920.13 642.92 919.55 645 918.7 647.5 C917.85 650 915.78 654.58 915.2 656" stroke-width="1.3" />
<line x1="367" y1="634.4" x2="443" y2="634.4" stroke-width="1.49"/>
<line x1="497" y1="634.4" x2="603" y2="634.4" stroke-width="1.49"/>
<line x1="761" y1="634.4" x2="867.5" y2="634.4" stroke-width="1.49"/>
<line x1="922" y1="634.4" x2="1000" y2="634.4" stroke-width="1.49"/>
<polyline points="1050,635 1070,637 1082,641 1146,641 1160,650 1180,658 1200,657 1222,650 1236,641 1244,640" stroke-width="1.95"/>
<path d="M1244 640 C1245.17 640.83 1249.17 642.33 1251 645 C1252.83 647.67 1254.33 654.17 1255 656" stroke-width="2.6" />
<polyline points="1255,656 1255,682 1246,690" stroke-width="3.12"/>
<polyline points="1246,690.4 1189,691.2" stroke-width="2.08"/>
<polyline points="1052,637.6 1070,639.6" stroke-width="1.3"/>
<polyline points="1082,641 1090,650 1102,663" stroke-width="1.95"/>
<polyline points="1087,642.4 1098,656 1103,662" stroke-width="1.3"/>
<polyline points="1090,643.6 1142,643.6 1144,646" stroke-width="1.56"/>
<polyline points="1092,646.4 1142,646.4" stroke-width="1.43"/>
<polyline points="1146,643.6 1160,653 1180,660.6 1188,661" stroke-width="1.3"/>
<rect x="1101" y="665" width="87" height="5" stroke-width="1.56"/>
<line x1="1102" y1="667.6" x2="1187.6" y2="667.6" stroke-width="4.55"/>
<rect x="1100" y="671.6" width="87" height="12.4" stroke-width="1.69"/>
<line x1="1103" y1="674" x2="1185" y2="674" stroke-width="1.43"/>
<line x1="1103" y1="680" x2="1185" y2="680" stroke-width="1.43"/>
<line x1="1100" y1="687.6" x2="1186" y2="687.6" stroke-width="4.16"/>
<line x1="1100" y1="690" x2="1184" y2="690" stroke-width="1.43"/>
<line x1="1189" y1="657" x2="1189" y2="692" stroke-width="2.86"/>
<line x1="1192.4" y1="658" x2="1192.4" y2="691.6" stroke-width="1.56"/>
<line x1="1198" y1="658" x2="1198" y2="680" stroke-width="1.56"/>
<line x1="1200.4" y1="657.6" x2="1200.4" y2="691.6" stroke-width="2.08"/>
<line x1="1189" y1="680" x2="1200" y2="680" stroke-width="1.56"/>
<line x1="1190" y1="686" x2="1250" y2="686" stroke-width="3.9"/>
<line x1="1200" y1="688.6" x2="1246" y2="688.6" stroke-width="1.56"/>
<circle cx="1231" cy="664" r="7.5" stroke-width="1.56"/>
<line x1="1222" y1="664" x2="1240" y2="664" stroke-width="1.3"/>
<line x1="1187.32" y1="692.82" x2="1104.32" y2="738.02" stroke-width="2.47"/>
<line x1="1184.68" y1="687.98" x2="1101.68" y2="733.18" stroke-width="2.47"/>
<line x1="1186" y1="690.4" x2="1103" y2="735.6" stroke-width="3.5" stroke-dasharray="1.1 1.5"/>
<line x1="1099.3" y1="672" x2="1099.3" y2="802" stroke-width="1.69"/>
<line x1="1103" y1="684" x2="1103" y2="810" stroke-width="1.56"/>
<path d="M1099.3 802 C1099.08 803.67 1099.38 809 1098 812 C1096.62 815 1094 817.67 1091 820 C1088 822.33 1081.83 825 1080 826" stroke-width="1.69" />
<path d="M1103 810 C1102.67 811.33 1102.5 815.5 1101 818 C1099.5 820.5 1096.83 823 1094 825 C1091.17 827 1085.67 829.17 1084 830" stroke-width="1.43" />
<line x1="1091.42" y1="826.2" x2="1009.42" y2="862.7" stroke-width="2.47"/>
<line x1="1088.58" y1="819.8" x2="1006.58" y2="856.3" stroke-width="2.47"/>
<line x1="1090.53" y1="824.19" x2="1008.53" y2="860.69" stroke-width="1.3"/>
<line x1="1089.47" y1="821.81" x2="1007.47" y2="858.31" stroke-width="1.3"/>
<line x1="1090" y1="823" x2="1008" y2="859.5" stroke-width="3" stroke-dasharray="1.1 1.5"/>
<line x1="1073.47" y1="849.18" x2="1006.47" y2="880.18" stroke-width="2.47"/>
<line x1="1070.53" y1="842.82" x2="1003.53" y2="873.82" stroke-width="2.47"/>
<line x1="1072.55" y1="847.18" x2="1005.55" y2="878.18" stroke-width="1.3"/>
<line x1="1071.45" y1="844.82" x2="1004.45" y2="875.82" stroke-width="1.3"/>
<line x1="1072" y1="846" x2="1005" y2="877" stroke-width="3" stroke-dasharray="1.1 1.5"/>
<line x1="908.43" y1="712.83" x2="992.43" y2="671.83" stroke-width="1.69"/>
<line x1="909.57" y1="715.17" x2="993.57" y2="674.17" stroke-width="1.69"/>
<line x1="913.78" y1="719.53" x2="980.78" y2="686.53" stroke-width="2.47"/>
<line x1="916.22" y1="724.47" x2="983.22" y2="691.47" stroke-width="2.47"/>
<line x1="915" y1="722" x2="982" y2="689" stroke-width="3.5" stroke-dasharray="1.1 1.5"/>
<line x1="928.47" y1="728.14" x2="984.47" y2="698.14" stroke-width="2.47"/>
<line x1="931.53" y1="733.86" x2="987.53" y2="703.86" stroke-width="2.47"/>
<line x1="930" y1="731" x2="986" y2="701" stroke-width="4" stroke-dasharray="1.1 1.5"/>
<line x1="993" y1="673" x2="1002" y2="676" stroke-width="1.56"/>
<polyline points="990.17,764.67 1036.83,827.67 1090.5,784.5 1042.67,725" stroke-width="1.82"/>
<polyline points="993.08,762.92 1005.33,782.17 1031,815.42" stroke-width="1.43"/>
<polyline points="1039.17,727.92 1086.42,783.33" stroke-width="1.43"/>
<polyline points="1012.33,791.5 1061.33,756.5" stroke-width="1.56"/>
<polyline points="1026.33,813.67 1077.67,776.33" stroke-width="1.56"/>
<polyline points="1005.33,782.17 1012.33,791.5 1026.33,813.67 1036.83,827.67" stroke-width="1.43"/>
<polygon points="1038,737.83 1045,732.58 1054.92,744.83 1047.92,750.08" stroke-width="1.56"/>
<polygon points="1041.5,739 1045.58,736.08 1051.42,743.67 1047.33,746.58" stroke-width="1.43"/>
<polygon points="994.83,771.67 1005.33,764.67 1011.17,772.83 1000.67,779.83" stroke-width="1.56"/>
<polygon points="998.33,772.25 1004.17,768.17 1007.67,773.42 1001.83,777.5" stroke-width="1.43"/>
<polygon points="1039.17,786.83 1050.83,778.67 1055.5,785.67 1052,788 1062.5,800.83 1057.83,804.33 1047.33,791.5 1043.83,793.83" stroke-width="1.56"/>
<polyline points="1041.5,787.42 1050.25,781.58 1052.58,785.08" stroke-width="1.3"/>
<polygon points="1056.67,813.67 1071.83,802 1077.67,809 1062.5,820.67" stroke-width="1.56"/>
<polyline points="1071.83,802 1074.17,800.25 1077.08,804.92" stroke-width="1.43"/>
<polyline points="990.17,764.67 991.92,756.5 1000.67,748.33 1003.58,755.33 1021.67,742.5 1020.5,734.33 1026.33,727.33 1035.67,725 1042.67,725" stroke-width="1.69"/>
<polyline points="1000.67,748.33 1010,744.83 1014.67,739" stroke-width="1.43"/>
<polyline points="1021.67,742.5 1028.67,736.67 1033.33,729.67" stroke-width="1.43"/>
<polyline points="1026.33,727.33 1031,732 1039.17,727.33" stroke-width="1.43"/>
<polyline points="991.92,756.5 994.83,761.17 1003.58,755.33" stroke-width="1.43"/>
<path d="M996 708.67 C996.39 710.03 996.78 714.89 998.33 716.83 C999.89 718.78 1003 720.14 1005.33 720.33 C1007.67 720.53 1011.17 718.39 1012.33 718" stroke-width="1.56" />
<path d="M983.17 718 C984.14 719.17 987.64 722.28 989 725 C990.36 727.72 991.14 731.42 991.33 734.33 C991.53 737.25 990.36 741.14 990.17 742.5" stroke-width="1.56" />
<polyline points="983.17,718 996,708.67" stroke-width="1.43"/>
<polyline points="986.67,721.5 998.33,713.33" stroke-width="1.3"/>
<path d="M993.67 713.33 C993.86 714.89 995.22 719.75 994.83 722.67 C994.44 725.58 992.69 728.5 991.33 730.83 C989.97 733.17 987.44 735.69 986.67 736.67" stroke-width="1.43" />
<polyline points="990.17,742.5 994.83,736.67 1014.67,719.17" stroke-width="1.43"/>
<polyline points="991.33,734.33 1005.33,741.33 1014.67,739 1010,719.17" stroke-width="1.43"/>
<polyline points="986.67,736.67 991.92,756.5" stroke-width="1.43"/>
<polyline points="994.83,736.67 989,755.33" stroke-width="1.3"/>
<polyline points="1007.08,703.42 1012.33,718" stroke-width="1.82"/>
<polyline points="1011.17,702.25 1015.83,716.25" stroke-width="1.56"/>
<polyline points="1028.67,699.33 1033.33,715.08" stroke-width="1.82"/>
<polyline points="1025.75,700.5 1029.83,713.92" stroke-width="1.56"/>
<polyline points="1007.08,703.42 1011.17,702.25" stroke-width="1.43"/>
<polyline points="1025.75,700.5 1028.67,699.33" stroke-width="1.43"/>
<polyline points="1012.33,707.5 1027.5,703.42" stroke-width="1.56"/>
<polyline points="1013.5,710.42 1028.67,706.33" stroke-width="1.56"/>
<polyline points="1014.67,713.33 1029.83,709.25" stroke-width="2.08"/>
<polyline points="975,729.67 966.83,750.67 980.83,758.83" stroke-width="1.69"/>
<polyline points="978.5,730.83 970.92,749.5" stroke-width="1.43"/>
<polyline points="986.67,734.33 979.67,756.5" stroke-width="1.69"/>
<polyline points="983.75,733.17 976.75,753.58" stroke-width="1.43"/>
<polyline points="975,729.67 986.67,734.33" stroke-width="1.43"/>
<polyline points="973.83,737.83 984.33,741.92" stroke-width="1.56"/>
<polyline points="971.5,743.67 982,747.75" stroke-width="1.56"/>
<polyline points="969.17,748.33 980.25,753" stroke-width="1.56"/>
<circle cx="1007.67" cy="735.5" r="4" style="fill:#000" stroke-width="1"/>
<circle cx="1007.67" cy="735.5" r="5.2" stroke-width="1.3"/>
<circle cx="971" cy="786.8" r="11" stroke-width="2.08"/>
<circle cx="971" cy="786.8" r="7.5" stroke-width="2.6"/>
<circle cx="971" cy="786.8" r="3.5" stroke-width="1.56"/>
<line x1="955" y1="786.8" x2="987" y2="786.8" stroke-width="1.3"/>
<line x1="971" y1="771" x2="971" y2="803" stroke-width="1.3"/>
<polyline points="162.5,957.5 167.5,950 230,950" stroke-width="1.69"/>
<polyline points="162.5,957.5 162.5,991.25 222.5,991.25" stroke-width="2.08"/>
<polyline points="166.25,958.75 170,953 223.75,953" stroke-width="1.43"/>
<line x1="166.25" y1="958.75" x2="166.25" y2="990" stroke-width="1.56"/>
<line x1="169.5" y1="960" x2="169.5" y2="990" stroke-width="1.3"/>
<line x1="220" y1="953" x2="220" y2="991.25" stroke-width="1.69"/>
<line x1="223.75" y1="953" x2="223.75" y2="993.75" stroke-width="1.69"/>
<polyline points="230,950 310,906.25 342.5,906.25" stroke-width="1.82"/>
<polyline points="223.75,960 310,916.25 341.25,916.25" stroke-width="1.69"/>
<line x1="310" y1="906.25" x2="310" y2="916.25" stroke-width="1.43"/>
<line x1="316.25" y1="906.25" x2="316.25" y2="916.25" stroke-width="1.43"/>
<polyline points="223.75,993.75 308.75,1041.25 342.5,1041.25" stroke-width="1.82"/>
<polyline points="223.75,986.25 311.25,1032.5 341.25,1032.5" stroke-width="1.69"/>
<line x1="311.25" y1="1032.5" x2="308.75" y2="1041.25" stroke-width="1.43"/>
<line x1="316.25" y1="1032.5" x2="316.25" y2="1041.25" stroke-width="1.43"/>
<polyline points="362.5,960 252.5,960 250.5,962.5 250.5,968.75 360,968.75" stroke-width="1.82"/>
<line x1="255" y1="961.5" x2="361.25" y2="961.5" stroke-width="3.9"/>
<polyline points="255,967 258,963" stroke-width="1.43"/>
<polyline points="362.5,980 252.5,980 250.5,982.5 250.5,988.75 360,988.75" stroke-width="1.82"/>
<line x1="255" y1="981.5" x2="361.25" y2="981.5" stroke-width="3.9"/>
<polyline points="255,987 258,983" stroke-width="1.43"/>
<rect x="261" y="1196" width="43" height="53" rx="8" stroke-width="1.69"/>
<rect x="264" y="1200" width="36" height="45" rx="5" stroke-width="1.43"/>
<rect x="266.5" y="1203" width="30.5" height="39" stroke-width="1.43"/>
<circle cx="272.5" cy="1222" r="4.5" stroke-width="1.3"/>
<line x1="266" y1="1222" x2="279" y2="1222" stroke-width="1.3"/>
<line x1="272.5" y1="1215.5" x2="272.5" y2="1228.5" stroke-width="1.3"/>
<rect x="281" y="1209.5" width="4.5" height="25" stroke-width="1.43"/>
<polyline points="260.5,1179.5 273,1179.5 273,1220" stroke-width="1.43"/>
<line x1="302.54" y1="1137.99" x2="375.79" y2="1108.49" stroke-width="2.47"/>
<line x1="304.96" y1="1144.01" x2="378.21" y2="1114.51" stroke-width="2.47"/>
<line x1="303.36" y1="1140.03" x2="376.61" y2="1110.53" stroke-width="1.3"/>
<line x1="304.14" y1="1141.97" x2="377.39" y2="1112.47" stroke-width="1.3"/>
<line x1="303.75" y1="1141" x2="377" y2="1111.5" stroke-width="3" stroke-dasharray="1.1 1.5"/>
<line x1="295.9" y1="1269.67" x2="430.4" y2="1193.67" stroke-width="2.47"/>
<line x1="299.1" y1="1275.33" x2="433.6" y2="1199.33" stroke-width="2.47"/>
<line x1="296.98" y1="1271.59" x2="431.48" y2="1195.59" stroke-width="1.3"/>
<line x1="298.02" y1="1273.41" x2="432.52" y2="1197.41" stroke-width="1.3"/>
<line x1="297.5" y1="1272.5" x2="432" y2="1196.5" stroke-width="3" stroke-dasharray="1.1 1.5"/>
<line x1="365.32" y1="1263.59" x2="441.82" y2="1194.59" stroke-width="2.47"/>
<line x1="369.68" y1="1268.41" x2="446.18" y2="1199.41" stroke-width="2.47"/>
<line x1="366.8" y1="1265.22" x2="443.3" y2="1196.22" stroke-width="1.3"/>
<line x1="368.2" y1="1266.78" x2="444.7" y2="1197.78" stroke-width="1.3"/>
<line x1="367.5" y1="1266" x2="444" y2="1197" stroke-width="3" stroke-dasharray="1.1 1.5"/>
<line x1="929.23" y1="1198" x2="987.56" y2="1272.67" stroke-width="2.47"/>
<line x1="924.11" y1="1202" x2="982.44" y2="1276.67" stroke-width="2.47"/>
<line x1="927.49" y1="1199.35" x2="985.83" y2="1274.02" stroke-width="1.3"/>
<line x1="925.84" y1="1200.65" x2="984.17" y2="1275.31" stroke-width="1.3"/>
<line x1="926.67" y1="1200" x2="985" y2="1274.67" stroke-width="3" stroke-dasharray="1.1 1.5"/>
<line x1="945.11" y1="1198.93" x2="1061.78" y2="1271.27" stroke-width="2.47"/>
<line x1="940.89" y1="1205.73" x2="1057.56" y2="1278.07" stroke-width="2.47"/>
<line x1="943.95" y1="1200.8" x2="1060.62" y2="1273.14" stroke-width="1.3"/>
<line x1="942.05" y1="1203.86" x2="1058.72" y2="1276.2" stroke-width="1.3"/>
<line x1="943" y1="1202.33" x2="1059.67" y2="1274.67" stroke-width="4" stroke-dasharray="1.1 1.5"/>
<rect x="1143.67" y="1116" width="65.33" height="44.33" stroke-width="1.95"/>
<line x1="1143.67" y1="1121.13" x2="1202" y2="1121.13" stroke-width="1.56"/>
<line x1="1144.83" y1="1118.33" x2="1202" y2="1118.33" stroke-width="3.25"/>
<line x1="1201.53" y1="1118.33" x2="1201.53" y2="1160.33" stroke-width="1.56"/>
<line x1="1205.5" y1="1119.5" x2="1205.5" y2="1160.33" stroke-width="3.9"/>
<line x1="1143.67" y1="1107.83" x2="1143.67" y2="1116" stroke-width="1.69"/>
<line x1="1147.17" y1="1109" x2="1147.17" y2="1116" stroke-width="1.3"/>
<line x1="1017.67" y1="1064.67" x2="1169.33" y2="1115.53" stroke-width="1.56"/>
<line x1="1010.67" y1="1072.83" x2="1143.67" y2="1113.2" stroke-width="1.43"/>
<line x1="1014.44" y1="1073.24" x2="1111.27" y2="1105.9" stroke-width="2.47"/>
<line x1="1011.56" y1="1081.76" x2="1108.4" y2="1114.43" stroke-width="2.47"/>
<line x1="1013.74" y1="1075.32" x2="1110.57" y2="1107.99" stroke-width="1.3"/>
<line x1="1012.27" y1="1079.68" x2="1109.1" y2="1112.35" stroke-width="1.3"/>
<line x1="1013" y1="1077.5" x2="1109.83" y2="1110.17" stroke-width="4.5" stroke-dasharray="1.1 1.5"/>
<line x1="1003.93" y1="1089.83" x2="1103.1" y2="1125.3" stroke-width="2.47"/>
<line x1="1001.07" y1="1097.84" x2="1100.24" y2="1133.3" stroke-width="2.47"/>
<line x1="1003.19" y1="1091.9" x2="1102.36" y2="1127.37" stroke-width="1.3"/>
<line x1="1001.81" y1="1095.76" x2="1100.98" y2="1131.23" stroke-width="1.3"/>
<line x1="1002.5" y1="1093.83" x2="1101.67" y2="1129.3" stroke-width="4.5" stroke-dasharray="1.1 1.5"/>
<line x1="982.67" y1="1148.67" x2="1143.67" y2="1148.67" stroke-width="1.82"/>
<line x1="973.33" y1="1154.97" x2="1143.67" y2="1154.97" stroke-width="1.56"/>
<line x1="973.33" y1="1158" x2="1143.67" y2="1158" stroke-width="1.82"/>
<line x1="1103.4" y1="1040" x2="1103.4" y2="1086" stroke-width="1.56"/>
<line x1="1073.7" y1="1060" x2="1073.7" y2="1079" stroke-width="1.56"/>
<polyline points="1031,629.6 1050,635" stroke-width="1.95"/>
<polyline points="653.6,859.4 702,848.4 707.6,861.6 696,870" stroke-width="1.69"/>
<polyline points="658,863.6 700,853.2 703.6,862.4" stroke-width="1.43"/>
<polyline points="650,860 656.4,877.2" stroke-width="1.56"/>
<line x1="681.5" y1="170.5" x2="681.5" y2="420" stroke-width="1.69"/>
<line x1="105" y1="438.25" x2="652" y2="438.25" stroke-width="1.69"/>
<line x1="708" y1="438.25" x2="1255.5" y2="438.25" stroke-width="1.69"/>
<line x1="731" y1="169.7" x2="1378" y2="169.7" stroke-width="1.69"/>
<line x1="1377" y1="175" x2="1377" y2="269" stroke-width="1.69"/>
<line x1="1377" y1="304" x2="1377" y2="399" stroke-width="1.69"/>
<line x1="1376.3" y1="175" x2="1376.3" y2="183" stroke-width="2.86"/>
<line x1="1376.3" y1="391" x2="1376.3" y2="399" stroke-width="2.86"/>
<line x1="1255.5" y1="403.4" x2="1378" y2="403.4" stroke-width="1.69"/>
<line x1="135.5" y1="541.3" x2="661" y2="541.3" stroke-width="1.69"/>
<line x1="703" y1="541.3" x2="1230" y2="541.3" stroke-width="1.69"/>
<line x1="135.5" y1="541.3" x2="135.5" y2="663" stroke-width="1.69"/>
<line x1="1230" y1="541.3" x2="1230" y2="673" stroke-width="1.69"/>
<line x1="135.5" y1="541" x2="142" y2="541" stroke-width="2.6"/>
<line x1="1223" y1="541" x2="1230" y2="541" stroke-width="2.6"/>
<line x1="672" y1="626.3" x2="1361.5" y2="626.3" stroke-width="1.69"/>
<line x1="757" y1="1326.2" x2="1361.5" y2="1326.2" stroke-width="1.69"/>
<line x1="1360" y1="630" x2="1360" y2="957" stroke-width="1.69"/>
<line x1="1360" y1="993" x2="1360" y2="1322" stroke-width="1.69"/>
<line x1="1359.2" y1="630" x2="1359.2" y2="638" stroke-width="2.86"/>
<line x1="1359.2" y1="1314" x2="1359.2" y2="1322" stroke-width="2.86"/>
<line x1="683" y1="438.25" x2="708" y2="438.25" stroke-width="1.69"/>
<line x1="1372.5" y1="287" x2="1396.5" y2="287" stroke-width="1.69"/>
<line x1="690" y1="541.3" x2="703" y2="541.3" stroke-width="1.69"/>
<line x1="1361" y1="976" x2="1381" y2="976" stroke-width="1.69"/>
</g>
<defs>
<filter id="innerShade" filterUnits="userSpaceOnUse" x="400" y="1050" width="960" height="310" color-interpolation-filters="sRGB">
<feComponentTransfer in="SourceAlpha" result="inv"><feFuncA type="table" tableValues="1 0"/></feComponentTransfer>
<feGaussianBlur in="inv" stdDeviation="6.5" result="blur"/>
<feComposite in="blur" in2="SourceAlpha" operator="in" result="inner"/>
<feFlood flood-color="#c4c4c4" flood-opacity="1" result="col"/>
<feComposite in="col" in2="inner" operator="in"/>
</filter>
</defs>
<g filter="url(#innerShade)" fill="#000" stroke="none">
<path d="M439 1088 H801 L877.6 1151.6 L952 1088 H1324 V1184 H1156 L1144 1194 V1222 L1156 1232 H1324 V1326 H1052 Q1035 1326 1035 1310 V1160 L942.4 1259.6 V1326 H809 V1259.6 L738.4 1183 H669 V1326 H536 V1183 H439 Z"/>
</g>

<text x="653.5" y="445.3" text-anchor="start" style="font-size:21px" >25</text>
<text x="683.5" y="435.3" text-anchor="start" style="font-size:21px" >25</text>
<text x="683.5" y="455.5" text-anchor="start" style="font-size:21px" >32</text>
<text x="1355.5" y="294.8" text-anchor="start" style="font-size:21px" >5</text>
<text x="1378.5" y="285.2" text-anchor="start" style="font-size:21px" >7</text>
<text x="1372.5" y="303.5" text-anchor="start" style="font-size:21px" >32</text>
<text x="663.5" y="549.2" text-anchor="start" style="font-size:21px" >24</text>
<text x="692.5" y="539.2" text-anchor="start" style="font-size:21px" >1</text>
<text x="692.5" y="558.5" text-anchor="start" style="font-size:21px" >2</text>
<text x="1338.5" y="983.2" text-anchor="start" style="font-size:20px;font-family:&quot;Liberation Serif&quot;,&quot;DejaVu Serif&quot;,serif" >15</text>
<text x="1363" y="973.8" text-anchor="start" style="font-size:20px;font-family:&quot;Liberation Serif&quot;,&quot;DejaVu Serif&quot;,serif" >11</text>
<text x="1363" y="993.2" text-anchor="start" style="font-size:20px;font-family:&quot;Liberation Serif&quot;,&quot;DejaVu Serif&quot;,serif" >16</text>
</svg>
</body></html>
